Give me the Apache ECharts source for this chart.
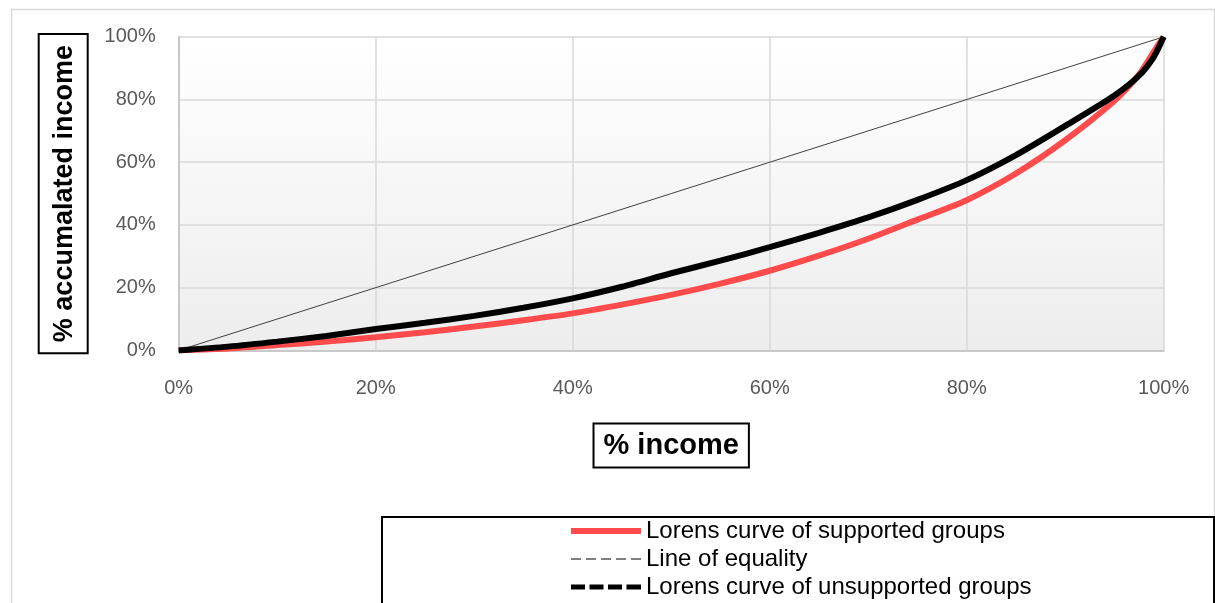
<!DOCTYPE html>
<html>
<head>
<meta charset="utf-8">
<script src="https://cdn.jsdelivr.net/npm/echarts@6/dist/echarts.min.js"></script>
<style>html,body{margin:0;padding:0;background:#fff}#c{width:1215px;height:603px}</style>
</head>
<body>
<div id="c"></div>
<script>
var xs          = [0, 5, 10, 15, 20, 25, 30, 35, 40, 45, 50, 55, 60, 65, 70, 75, 80, 85, 90, 95, 97.5, 99, 100];
var supported   = [0, 0.6, 1.7, 2.8, 4.2, 5.8, 7.6, 9.6, 11.8, 14.6, 17.7, 21.3, 25.4, 30.2, 35.6, 41.7, 47.9, 56.4, 67, 79.6, 88, 95.3, 100];
var unsupported = [0, 1.2, 2.8, 4.6, 6.8, 8.8, 11, 13.6, 16.6, 20.3, 24.6, 28.6, 32.9, 37.5, 42.4, 48, 54.3, 62.3, 71.6, 81.3, 87.6, 93.6, 100];
var equalityX = [0, 100];
var equalityY = [0, 100];
var seriesNames = ['Lorens curve of supported groups', 'Line of equality', 'Lorens curve of unsupported groups'];
var xTitle = '% income';
var yTitle = '% accumalated income';

function pairs(a, b) { return a.map(function (v, i) { return [v, b[i]]; }); }

var chart = echarts.init(document.getElementById('c'));
var FONT = 'Liberation Sans';
chart.setOption({
  animation: false,
  textStyle: { fontFamily: FONT },
  graphic: [
    { type: 'rect', left: 9, top: 7, shape: { width: 1203, height: 610 }, style: { fill: 'none', stroke: '#d9d9d9', lineWidth: 1.5 }, z: -10 },
    { type: 'rect', left: 381, top: 516, shape: { width: 832, height: 100 }, style: { fill: '#fff', stroke: '#000', lineWidth: 2 }, z: 0 }
  ],
  grid: {
    left: 178.7, right: 51.3, top: 36.8, bottom: 252.6,
    show: true, borderWidth: 0,
    backgroundColor: { type: 'linear', x: 0, y: 0, x2: 0, y2: 1, colorStops: [{ offset: 0, color: '#ffffff' }, { offset: 1, color: '#ededed' }] }
  },
  xAxis: {
    type: 'value', min: 0, max: 100, interval: 20,
    axisLabel: { formatter: '{value}%', color: '#595959', fontSize: 20, margin: 28, fontFamily: FONT },
    axisLine: { show: true, lineStyle: { color: '#c9c9c9', width: 2 } },
    axisTick: { show: false },
    splitLine: { show: true, lineStyle: { color: '#d9d9d9', width: 1.5 } },
    name: xTitle, nameLocation: 'middle', nameGap: 74,
    nameTextStyle: { fontSize: 29, fontWeight: 'bold', color: '#000', fontFamily: FONT, borderColor: '#000', borderWidth: 2, padding: [7, 9, 6, 9], backgroundColor: '#fff' }
  },
  yAxis: {
    type: 'value', min: 0, max: 100, interval: 20,
    axisLabel: { formatter: '{value}%', color: '#595959', fontSize: 20, margin: 23, fontFamily: FONT },
    axisLine: { show: true, lineStyle: { color: '#c9c9c9', width: 2 } },
    axisTick: { show: false },
    splitLine: { show: true, lineStyle: { color: '#d9d9d9', width: 1.5 } },
    name: yTitle, nameLocation: 'middle', nameGap: 92,
    nameTextStyle: { fontSize: 27, fontWeight: 'bold', color: '#000', fontFamily: FONT, borderColor: '#000', borderWidth: 2, padding: [11, 10, 9, 10], backgroundColor: '#fff' }
  },
  legend: {
    orient: 'vertical', left: 571, top: 519, padding: 0,
    itemWidth: 70, itemHeight: 22, itemGap: 4,
    textStyle: { fontSize: 24, color: '#000', fontFamily: FONT },
    data: [
      { name: seriesNames[0], icon: 'path://M0,0h70v6h-70z', itemStyle: { color: '#ff4b4b' } },
      { name: seriesNames[1], icon: 'path://M0,0h10v2h-10z M15,0h10v2h-10z M30,0h10v2h-10z M45,0h10v2h-10z M60,0h10v2h-10z', itemStyle: { color: '#7f7f7f' } },
      { name: seriesNames[2], icon: 'path://M0,0h14v5h-14z M18.5,0h14v5h-14z M37,0h14v5h-14z M55.5,0h14.5v5h-14.5z', itemStyle: { color: '#000' } }
    ]
  },
  series: [
    { name: seriesNames[0], type: 'line', data: pairs(xs, supported), smooth: 0.25, showSymbol: false, symbol: 'none',
      lineStyle: { color: '#ff4b4b', width: 6 }, itemStyle: { color: '#ff4b4b' }, z: 3 },
    { name: seriesNames[1], type: 'line', data: pairs(equalityX, equalityY), showSymbol: false, symbol: 'none',
      lineStyle: { color: '#404040', width: 1 }, itemStyle: { color: '#7f7f7f' }, z: 2 },
    { name: seriesNames[2], type: 'line', data: pairs(xs, unsupported), smooth: 0.25, showSymbol: false, symbol: 'none',
      lineStyle: { color: '#000', width: 6 }, itemStyle: { color: '#000' }, z: 4 }
  ]
});
</script>
</body>
</html>
